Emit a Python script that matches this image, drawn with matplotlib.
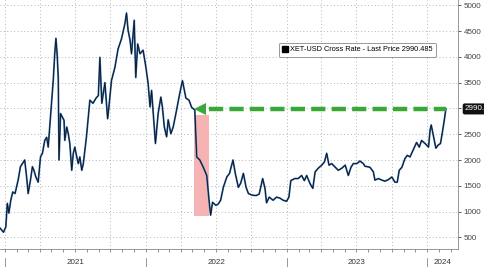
import numpy as np
import pandas as pd
import matplotlib
matplotlib.use("Agg")
import matplotlib.pyplot as plt
import matplotlib.dates as mdates
import matplotlib.transforms as mtransforms
from matplotlib.lines import Line2D

plt.rcParams['font.family'] = ['Liberation Sans', 'DejaVu Sans']

# ---------------------------
# Daten
# ---------------------------
daten = [
    "2020-12-19", "2020-12-28", "2021-01-03", "2021-01-07", "2021-01-11", "2021-01-16",
    "2021-01-21", "2021-01-27", "2021-01-31", "2021-02-04", "2021-02-10", "2021-02-15",
    "2021-02-21", "2021-02-26", "2021-03-02", "2021-03-08", "2021-03-13", "2021-03-17",
    "2021-03-22", "2021-03-28", "2021-04-03", "2021-04-08", "2021-04-14", "2021-04-19",
    "2021-04-23", "2021-04-27", "2021-05-02", "2021-05-06", "2021-05-10", "2021-05-13",
    "2021-05-16", "2021-05-19", "2021-05-21", "2021-05-25", "2021-05-30", "2021-06-03",
    "2021-06-05", "2021-06-10", "2021-06-14", "2021-06-18", "2021-06-23", "2021-06-27",
    "2021-07-01", "2021-07-06", "2021-07-10", "2021-07-14", "2021-07-19", "2021-07-23",
    "2021-07-27", "2021-07-31", "2021-08-05", "2021-08-09", "2021-08-17", "2021-08-25",
    "2021-08-31", "2021-09-04", "2021-09-09", "2021-09-17", "2021-09-24", "2021-09-27",
    "2021-10-04", "2021-10-13", "2021-10-21", "2021-10-30", "2021-11-08", "2021-11-12",
    "2021-11-16", "2021-11-21", "2021-11-25", "2021-12-02", "2021-12-06", "2021-12-11",
    "2021-12-17", "2021-12-25", "2022-01-01", "2022-01-07", "2022-01-12", "2022-01-16",
    "2022-01-23", "2022-01-26", "2022-02-02", "2022-02-09", "2022-02-13", "2022-02-18",
    "2022-02-24", "2022-02-28", "2022-03-07", "2022-03-13", "2022-03-20", "2022-03-30",
    "2022-04-06", "2022-04-15", "2022-04-23", "2022-04-30", "2022-05-08", "2022-05-11",
    "2022-05-13", "2022-05-21", "2022-05-30", "2022-06-08", "2022-06-14", "2022-06-18",
    "2022-06-23", "2022-07-02", "2022-07-08", "2022-07-14", "2022-07-21", "2022-07-30",
    "2022-08-06", "2022-08-15", "2022-08-21", "2022-08-29", "2022-09-04", "2022-09-11",
    "2022-09-18", "2022-09-24", "2022-10-03", "2022-10-14", "2022-10-22", "2022-10-31",
    "2022-11-06", "2022-11-10", "2022-11-17", "2022-11-27", "2022-12-06", "2022-12-15",
    "2022-12-23", "2023-01-01", "2023-01-07", "2023-01-12", "2023-01-22", "2023-01-31",
    "2023-02-09", "2023-02-16", "2023-02-22", "2023-03-03", "2023-03-10", "2023-03-16",
    "2023-03-24", "2023-04-02", "2023-04-09", "2023-04-15", "2023-04-21", "2023-04-28",
    "2023-05-07", "2023-05-15", "2023-05-24", "2023-06-02", "2023-06-10", "2023-06-17",
    "2023-06-23", "2023-07-02", "2023-07-10", "2023-07-19", "2023-07-23", "2023-08-05",
    "2023-08-14", "2023-08-18", "2023-08-27", "2023-09-05", "2023-09-13", "2023-09-22",
    "2023-10-01", "2023-10-09", "2023-10-15", "2023-10-20", "2023-10-27", "2023-11-04",
    "2023-11-10", "2023-11-17", "2023-11-25", "2023-12-04", "2023-12-11", "2023-12-17",
    "2023-12-26", "2024-01-04", "2024-01-08", "2024-01-11", "2024-01-17", "2024-01-23",
    "2024-01-29", "2024-02-04", "2024-02-09", "2024-02-13", "2024-02-18",
]
kurs = [
    680, 600, 700, 1160, 970, 1220,
    1380, 1350, 1480, 1610, 1870, 1930,
    2000, 1670, 1350, 1610, 1870, 1800,
    1670, 1570, 2060, 2130, 2380, 2440,
    2250, 2640, 3100, 3540, 4070, 4360,
    4070, 3610, 2000, 2900, 2830, 2770,
    2380, 2640, 2510, 2320, 1800, 2130,
    2250, 2060, 1930, 2060, 1800, 1930,
    2190, 2440, 2830, 3160, 3100, 3200,
    3250, 3990, 3100, 3500, 2800, 3000,
    3540, 3800, 4150, 4350, 4650, 4850,
    4520, 4330, 4060, 4710, 3600, 4250,
    4060, 4130, 3810, 3490, 3030, 3350,
    2640, 2320, 2900, 3220, 3030, 2640,
    2450, 2780, 2510, 2640, 2900, 3290,
    3540, 3200, 3160, 3020, 2970, 2440,
    2060, 2000, 1860, 1700, 1220, 930,
    1180, 1120, 1150, 1220, 1470, 1670,
    1740, 2000, 1740, 1470, 1550, 1740,
    1470, 1350, 1320, 1310, 1340, 1640,
    1450, 1170, 1280, 1220, 1280, 1260,
    1220, 1200, 1280, 1600, 1640, 1640,
    1700, 1600, 1700, 1540, 1450, 1770,
    1840, 1900, 1960, 2130, 1900, 1930,
    1860, 1800, 1840, 1900, 1700, 1860,
    1930, 1930, 1980, 1930, 1880, 1860,
    1770, 1610, 1640, 1610, 1590, 1620,
    1670, 1570, 1570, 1800, 1860, 2030,
    2090, 2060, 2190, 2340, 2250, 2380,
    2320, 2250, 2580, 2680, 2450, 2230,
    2290, 2320, 2540, 2730, 2990.485,
]
letzter_kurs = 2990.485
jahre = ["2021", "2022", "2023", "2024"]
y_ticks = [500, 1000, 1500, 2000, 2500, 3000, 3500, 4000, 4500, 5000]
# "3000" wird im Original von der Kursmarke verdeckt
y_labels = ["500", "1000", "1500", "2000", "2500", "", "3500", "4000", "4500", "5000"]

# Markierter Crash-Bereich
crash_von, crash_bis = "2022-05-05", "2022-06-14"
crash_unten, crash_oben = 912, 2872
pfeil_spitze, pfeil_start = "2022-05-21", "2022-06-14"

daten = pd.to_datetime(daten)

# ---------------------------
# Diagramm
# ---------------------------
fig = plt.figure(figsize=(4.85, 2.67), dpi=100)
ax = fig.add_axes([0.0, 0.067, 0.944, 0.933])

ax.fill_between(pd.to_datetime([crash_von, crash_bis]), crash_unten, crash_oben,
                color='#f6b3b3', linewidth=0, zorder=1)

ax.plot(daten, kurs, color='#2f6db5', linewidth=1.3, zorder=2)
ax.plot(daten, kurs, color='#111111', linewidth=0.6, zorder=3)

gruen = '#38a838'
ax.plot([pd.Timestamp(pfeil_start), daten[-1]], [letzter_kurs, letzter_kurs],
        color=gruen, linewidth=3.2, dashes=(3.2, 1.4), zorder=4)
ax.plot(pd.Timestamp(pfeil_spitze), letzter_kurs, marker='<', markersize=9,
        color=gruen, markeredgewidth=0, zorder=4)

ax.set_xlim(pd.Timestamp("2020-12-19"), pd.Timestamp("2024-03-20"))
ax.set_ylim(272, 5103)

# Achsen
ax.yaxis.tick_right()
ax.set_yticks(y_ticks)
ax.set_yticklabels(y_labels)
ax.tick_params(axis='y', which='major', direction='out', length=2.5, width=0.6,
               labelsize=5.8, pad=1.5, colors='#444444')
ax.xaxis.set_major_locator(mdates.MonthLocator(bymonth=[1, 4, 7, 10]))
ax.xaxis.set_minor_locator(mdates.MonthLocator())
ax.xaxis.set_major_formatter(plt.NullFormatter())
ax.tick_params(axis='x', which='both', direction='out', length=2.5, width=0.5,
               colors='#666666')

for s in ['top', 'left']:
    ax.spines[s].set_visible(False)
ax.spines['right'].set_color('#888888')
ax.spines['bottom'].set_color('#888888')
ax.spines['right'].set_linewidth(0.6)
ax.spines['bottom'].set_linewidth(0.6)

ax.grid(True, which='major', linestyle=(0, (1, 2.5)), linewidth=0.7, color='#b5b5b5')
ax.set_axisbelow(True)

# Jahresbeschriftung
trans = mtransforms.blended_transform_factory(ax.transData, ax.transAxes)
x0, x1 = ax.get_xlim()
for j in jahre:
    start = mdates.date2num(pd.Timestamp(f"{j}-01-01"))
    ende = mdates.date2num(pd.Timestamp(f"{int(j) + 1}-01-01"))
    mitte = (max(start, x0) + min(ende, x1)) / 2
    ax.text(mitte, -0.052, j, transform=trans, ha='center', va='center',
            fontsize=5.8, color='#333333')
    ax.plot([start, start], [-0.036, -0.08], transform=trans, clip_on=False,
            color='#888888', linewidth=0.6)

# Kursmarke rechts
trans_y = mtransforms.blended_transform_factory(ax.transAxes, ax.transData)
ax.text(1.015, letzter_kurs, f"{letzter_kurs:.3f}", transform=trans_y,
        ha='left', va='center', fontsize=5.8, color='white', clip_on=False,
        bbox=dict(boxstyle='round,pad=0.25', facecolor='#111111', edgecolor='none'))

# Legende
griff = Line2D([], [], linestyle='none', marker='s', markersize=4.5, color='black')
leg = ax.legend([griff], [f"XET-USD Cross Rate - Last Price {letzter_kurs:.3f}"],
                loc='center', bbox_to_anchor=(0.78, 0.80), fontsize=5.3,
                handlelength=0.8, handletextpad=0.3, borderpad=0.45,
                fancybox=True, framealpha=1, edgecolor='#888888')
leg.get_frame().set_linewidth(0.6)

fig.savefig("out.png", dpi=100)
